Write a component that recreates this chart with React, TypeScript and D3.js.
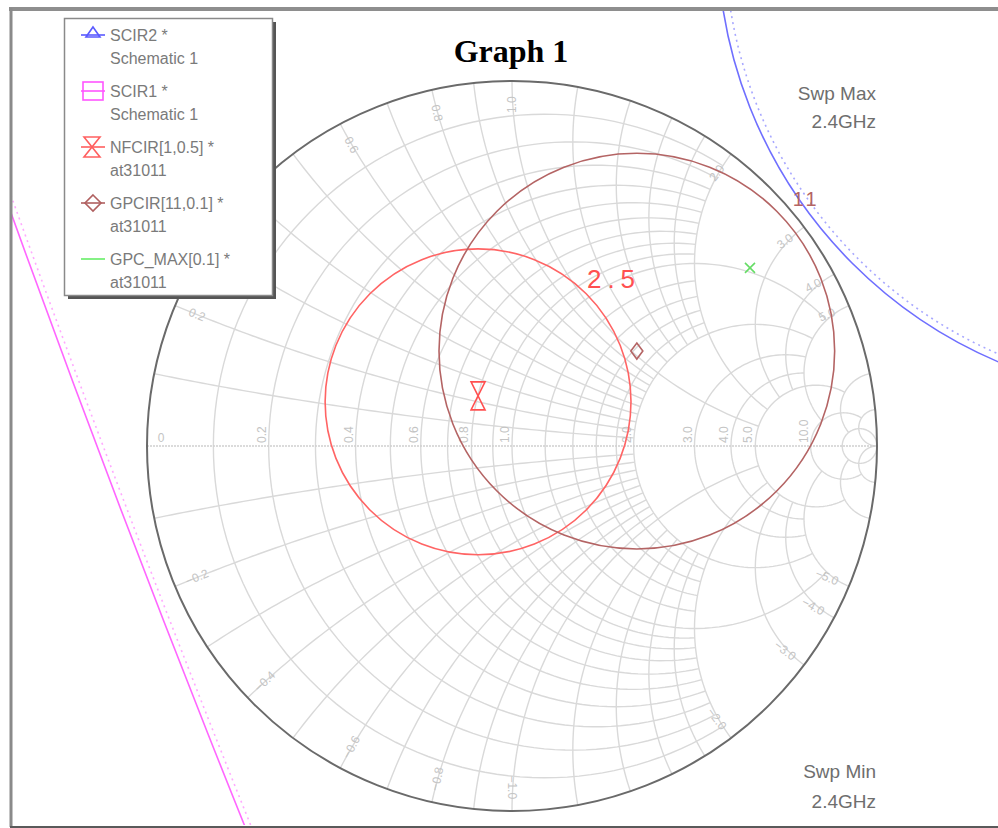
import React, { useEffect, useRef } from "react";
import * as d3 from "d3";

// Smith chart grid: resistance circles [r, |x| where the circle stops]
const rGrid: [number, number][] = [
  [0.1, 2], [0.2, 2], [0.3, 2], [0.4, 2], [0.5, 2], [0.6, 2], [0.7, 2], [0.8, 2], [0.9, 2], [1.0, 5],
  [1.2, 2], [1.4, 2], [1.6, 2], [1.8, 2], [2.0, 5],
  [3, 5], [4, 5], [5, 10], [10, 20], [20, Infinity],
];
// reactance arcs [x, r where the arc stops] (drawn for +x and -x)
const xGrid: [number, number][] = [
  [0.1, 2], [0.2, 2], [0.3, 2], [0.4, 2], [0.5, 2], [0.6, 2], [0.7, 2], [0.8, 2], [0.9, 2], [1.0, 5],
  [1.2, 2], [1.4, 2], [1.6, 2], [1.8, 2], [2.0, 5],
  [3, 5], [4, 5], [5, 10], [10, 20], [20, Infinity],
];
const rLabels = [0.2, 0.4, 0.6, 0.8, 1.0, 2.0, 3.0, 4.0, 5.0, 10.0];
const xLabels = [0.2, 0.4, 0.6, 0.8, 1.0, 2.0, 3.0, 4.0, 5.0, -0.2, -0.4, -0.6, -0.8, -1.0, -2.0, -3.0, -4.0, -5.0];

// legend
const legendNames = ["SCIR2 *", "SCIR1 *", "NFCIR[1,0.5] *", "GPCIR[11,0.1] *", "GPC_MAX[0.1] *"];
const legendSources = ["Schematic 1", "Schematic 1", "at31011", "at31011", "at31011"];

// circles, in reflection-coefficient units
const scir2Center = [1.826, 1.393];
const scir2Radius = 1.263;
const scir1Center = [44.68, 17.23];
const scir1Radius = 48.95;
const nfcirCenter = [-0.093, 0.121];
const nfcirRadius = 0.419;
const gpcirCenter = [0.342, 0.26];
const gpcirRadius = 0.542;
const gpcMaxPoint = [0.652, 0.488];
const nfcirLabel = "2.5";
const gpcirLabel = "11";
const sweepMax = ["Swp Max", "2.4GHz"];
const sweepMin = ["Swp Min", "2.4GHz"];

const W = 998;
const H = 828;
const FONT = "'Liberation Sans', Arial, sans-serif";

const zToGamma = (r: number, x: number): [number, number] => {
  const d = (r + 1) * (r + 1) + x * x;
  return [(r * r - 1 + x * x) / d, (2 * x) / d];
};

const rCircle = (r: number, xmax: number) => {
  const c = r / (1 + r);
  const rad = 1 / (1 + r);
  const [gx, gy] = isFinite(xmax) ? zToGamma(r, xmax) : [1, 0];
  const a = Math.atan2(gy, gx - c);
  return d3.range(0, 121).map((i) => {
    const t = a + ((2 * Math.PI - 2 * a) * i) / 120;
    return [c + rad * Math.cos(t), rad * Math.sin(t)] as [number, number];
  });
};

const xArc = (x: number, rmax: number) => {
  const cy = 1 / x;
  const rad = Math.abs(1 / x);
  const p0 = zToGamma(0, x);
  const p1 = isFinite(rmax) ? zToGamma(rmax, x) : [1, 0];
  const a0 = Math.atan2(p0[1] - cy, p0[0] - 1);
  const a1 = Math.atan2(p1[1] - cy, p1[0] - 1);
  let d = a1 - a0;
  while (d > Math.PI) d -= 2 * Math.PI;
  while (d < -Math.PI) d += 2 * Math.PI;
  return d3.range(0, 81).map((i) => {
    const t = a0 + (d * i) / 80;
    return [1 + rad * Math.cos(t), cy + rad * Math.sin(t)] as [number, number];
  });
};

const App = () => {
  const svgRef = useRef<SVGSVGElement>(null);

  useEffect(() => {
    const svg = d3.select(svgRef.current);
    svg.selectAll("*").remove();

    const sx = d3.scaleLinear().domain([-1, 1]).range([147, 877]);
    const sy = d3.scaleLinear().domain([-1, 1]).range([811, 81]);
    const unit = sx(1) - sx(0);
    const line = d3
      .line<[number, number]>()
      .x((d) => sx(d[0]))
      .y((d) => sy(d[1]));

    svg.append("rect").attr("width", W).attr("height", H).attr("fill", "white");

    const defs = svg.append("defs");
    defs
      .append("clipPath")
      .attr("id", "frame-clip")
      .append("rect")
      .attr("x", 12)
      .attr("y", 11)
      .attr("width", W - 12)
      .attr("height", 814);

    // grid
    const grid = svg.append("g").attr("fill", "none").attr("stroke", "#d9d9d9").attr("stroke-width", 1.4);
    rGrid.forEach(([r, xm]) => grid.append("path").attr("d", line(rCircle(r, xm))));
    xGrid.forEach(([x, rm]) => {
      grid.append("path").attr("d", line(xArc(x, rm)));
      grid.append("path").attr("d", line(xArc(-x, rm)));
    });
    svg
      .append("line")
      .attr("x1", sx(-1))
      .attr("x2", sx(1))
      .attr("y1", sy(0))
      .attr("y2", sy(0))
      .attr("stroke", "#cfcfcf")
      .attr("stroke-width", 1.4)
      .attr("stroke-dasharray", "2,1");

    // grid labels
    const lab = svg.append("g").attr("fill", "#c4c4c4").attr("font-family", FONT).attr("font-size", 12);
    rLabels.forEach((r) => {
      const px = sx((r - 1) / (r + 1)) - 3;
      const py = sy(0) - 3;
      lab
        .append("text")
        .attr("transform", `translate(${px},${py}) rotate(-90)`)
        .text(d3.format(".1f")(r));
    });
    lab
      .append("text")
      .attr("x", sx(-1) + 14)
      .attr("y", sy(0) - 4)
      .attr("text-anchor", "middle")
      .text("0");
    xLabels.forEach((x) => {
      const th = Math.PI - 2 * Math.atan(x);
      const px = sx(0.935 * Math.cos(th));
      const py = sy(0.935 * Math.sin(th));
      let ang = (-th * 180) / Math.PI;
      while (ang > 180) ang -= 360;
      while (ang <= -180) ang += 360;
      if (Math.abs(ang) > 90) ang += 180;
      lab
        .append("text")
        .attr("transform", `translate(${px},${py}) rotate(${ang})`)
        .attr("text-anchor", "middle")
        .attr("dominant-baseline", "central")
        .text(d3.format(".1f")(x));
    });

    // outer circle
    svg
      .append("circle")
      .attr("cx", sx(0))
      .attr("cy", sy(0))
      .attr("r", unit)
      .attr("fill", "none")
      .attr("stroke", "#6a6a6a")
      .attr("stroke-width", 2);

    // traces
    const traces = svg.append("g").attr("clip-path", "url(#frame-clip)").attr("fill", "none");
    const circ = (c: number[], r: number, stroke: string, dash?: string, w = 1.6) => {
      const el = traces
        .append("circle")
        .attr("cx", sx(c[0]))
        .attr("cy", sy(c[1]))
        .attr("r", r * unit)
        .attr("stroke", stroke)
        .attr("stroke-width", w);
      if (dash) el.attr("stroke-dasharray", dash);
    };
    circ(scir2Center, scir2Radius, "#6f6fff");
    circ(scir2Center, scir2Radius - 0.02, "#a8a8ff", "2,4", 1.6);
    circ(scir1Center, scir1Radius, "#ff66ff");
    circ(scir1Center, scir1Radius - 0.016, "#ffaaff", "2,4", 1.6);
    circ(nfcirCenter, nfcirRadius, "#ff6464");
    circ(gpcirCenter, gpcirRadius, "#b46464");

    // markers at circle centres
    const mk = svg.append("g").attr("fill", "none").attr("stroke-width", 1.6);
    const hourglass = (g: any, cx: number, cy: number, w: number, h: number, col: string) =>
      g
        .append("path")
        .attr(
          "d",
          `M${cx - w},${cy - h}H${cx + w}L${cx - w},${cy + h}H${cx + w}Z`
        )
        .attr("stroke", col);
    const diamond = (g: any, cx: number, cy: number, w: number, h: number, col: string) =>
      g
        .append("path")
        .attr("d", `M${cx},${cy - h}L${cx + w},${cy}L${cx},${cy + h}L${cx - w},${cy}Z`)
        .attr("stroke", col);

    hourglass(mk, sx(nfcirCenter[0]), sy(nfcirCenter[1]) - 6, 7, 14, "#ff5050");
    diamond(mk, sx(gpcirCenter[0]), sy(gpcirCenter[1]), 6, 8, "#b46464");
    const gx = sx(gpcMaxPoint[0]);
    const gy = sy(gpcMaxPoint[1]);
    mk.append("path")
      .attr("d", `M${gx - 5},${gy - 5}L${gx + 5},${gy + 5}M${gx - 5},${gy + 5}L${gx + 5},${gy - 5}`)
      .attr("stroke", "#66dd66");

    // circle labels
    const labelAt = (c: number[], r: number, text: string, col: string, size: number, sp: number) => {
      const a = (42 * Math.PI) / 180;
      const d = r + 30 / unit;
      svg
        .append("text")
        .attr("x", sx(c[0] + d * Math.cos(a)))
        .attr("y", sy(c[1] + d * Math.sin(a)))
        .attr("text-anchor", "middle")
        .attr("dominant-baseline", "central")
        .attr("font-family", FONT)
        .attr("font-size", size)
        .attr("letter-spacing", sp)
        .attr("fill", col)
        .text(text);
    };
    labelAt(nfcirCenter, nfcirRadius, nfcirLabel, "#ff5050", 26, 6);
    labelAt(gpcirCenter, gpcirRadius, gpcirLabel, "#b46464", 20, 3);

    // sweep annotations
    const sw = svg.append("g").attr("font-family", FONT).attr("font-size", 19).attr("fill", "#6e6e6e").attr("text-anchor", "end");
    sw.append("text").attr("x", 876).attr("y", 100).text(sweepMax[0]);
    sw.append("text").attr("x", 876).attr("y", 128).text(sweepMax[1]);
    sw.append("text").attr("x", 876).attr("y", 778).text(sweepMin[0]);
    sw.append("text").attr("x", 876).attr("y", 808).text(sweepMin[1]);

    // frame
    const fr = svg.append("g").attr("fill", "none");
    fr.append("line").attr("x1", 9).attr("x2", W).attr("y1", 9).attr("y2", 9).attr("stroke", "#8e8e8e").attr("stroke-width", 4);
    fr.append("line").attr("x1", 11).attr("x2", 11).attr("y1", 8).attr("y2", 827).attr("stroke", "#8a8a8a").attr("stroke-width", 3);
    fr.append("line").attr("x1", 10).attr("x2", W).attr("y1", 827).attr("y2", 827).attr("stroke", "#5a5a5a").attr("stroke-width", 2);

    // legend
    const lg = svg.append("g");
    lg.append("rect").attr("x", 68).attr("y", 22).attr("width", 208).attr("height", 277).attr("fill", "#555");
    lg.append("rect")
      .attr("x", 64.5)
      .attr("y", 18.5)
      .attr("width", 208)
      .attr("height", 277)
      .attr("fill", "white")
      .attr("stroke", "#8a8a8a")
      .attr("stroke-width", 1.5);
    const legendColors = ["#5a5aff", "#ff55ff", "#ff6060", "#b06060", "#66ee66"];
    legendNames.forEach((name, i) => {
      const y = 35 + i * 56;
      const col = legendColors[i];
      const g = lg.append("g").attr("fill", "none").attr("stroke", col).attr("stroke-width", 1.6);
      g.append("line").attr("x1", 81).attr("x2", 105).attr("y1", y).attr("y2", y);
      if (i === 0) g.append("path").attr("d", `M93,${y - 8}L100,${y + 2}L86,${y + 2}Z`);
      if (i === 1) g.append("rect").attr("x", 83).attr("y", y - 9).attr("width", 20).attr("height", 18);
      if (i === 2) hourglass(g, 92, y, 8, 10, col);
      if (i === 3) diamond(g, 93, y, 8, 8, col);
      lg.append("text")
        .attr("x", 110)
        .attr("y", y + 6)
        .attr("font-family", FONT)
        .attr("font-size", 16)
        .attr("fill", "#7a7a7a")
        .text(name);
      lg.append("text")
        .attr("x", 110)
        .attr("y", y + 29)
        .attr("font-family", FONT)
        .attr("font-size", 16)
        .attr("fill", "#7a7a7a")
        .text(legendSources[i]);
    });

    // title
    svg
      .append("text")
      .attr("x", 511)
      .attr("y", 62)
      .attr("text-anchor", "middle")
      .attr("font-family", "'Liberation Serif', 'Times New Roman', serif")
      .attr("font-weight", "bold")
      .attr("font-size", 32)
      .text("Graph 1");
  }, []);

  return <svg ref={svgRef} width={W} height={H} style={{ position: "absolute", left: 0, top: 0 }} />;
};

export default App;
